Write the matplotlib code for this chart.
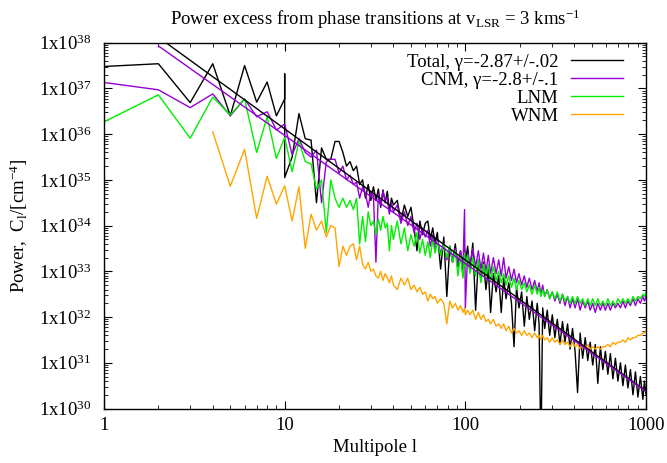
import matplotlib
matplotlib.use('Agg')
import matplotlib.pyplot as plt
import numpy as np
from matplotlib.ticker import FuncFormatter, FixedLocator, NullFormatter

# Значения по оси y хранятся как log10(C_l)

# Общая сетка мультиполей для l > 30
L_HI = [31, 32, 33, 34, 35, 36, 37, 38, 39, 40,
        42, 44, 46, 48, 50, 52, 54, 56, 58, 60,
        62, 64, 66, 68, 70, 73, 76, 79, 82, 85,
        88, 91, 94, 97, 99, 100, 103, 106, 110, 114,
        118, 122, 126, 130, 134, 138, 143, 148, 153, 158,
        163, 168, 174, 180, 186, 192, 198, 205, 212, 219,
        226, 234, 242, 250, 256, 262, 268, 275, 284, 293,
        303, 313, 323, 334, 345, 356, 368, 380, 392, 405,
        418, 432, 446, 461, 476, 491, 507, 524, 541, 559,
        577, 596, 615, 635, 656, 677, 699, 722, 745, 769,
        794, 820, 847, 874, 902, 931, 961, 980, 1000]

# Total
TOTAL_L_LOW = [1, 2, 3, 4, 5, 6, 7, 8, 9, 10, 10, 10,
               11, 12, 13, 14, 15, 16, 17, 18, 19, 20,
               21, 22, 23, 24, 25, 26, 27, 28, 29, 30]
TOTAL_LOW = [37.48, 37.54, 36.69, 37.54, 36.40, 37.50, 36.70, 37.14, 36.40, 36.77, 37.32, 35.05,
             35.50, 36.45, 35.90, 35.87, 34.50, 35.70, 35.45, 35.45, 35.84, 35.84,
             35.60, 35.30, 35.40, 35.20, 35.30, 34.90, 35.00, 34.60, 34.90, 34.55]
TOTAL_HI = [34.85, 34.55, 34.80, 34.40, 34.78, 34.50, 34.75, 34.30, 34.60, 34.45,
            34.55, 34.10, 34.45, 34.20, 34.40, 33.95, 33.45, 34.10, 33.80, 34.05,
            34.10, 33.70, 33.95, 33.60, 33.85, 33.05, 33.75, 32.45, 33.55, 33.20,
            33.60, 33.10, 33.45, 32.90, 33.50, 33.20, 33.55, 33.00, 33.62, 32.15,
            33.25, 32.80, 33.20, 32.60, 33.05, 32.10, 32.95, 32.55, 32.90, 32.10,
            32.85, 32.40, 32.75, 32.30, 31.35, 32.65, 32.20, 32.55, 31.80, 32.45,
            31.95, 32.35, 31.70, 32.30, 31.85, 29.00, 32.20, 31.75, 32.15, 31.60,
            32.05, 31.55, 31.95, 31.40, 31.90, 31.45, 31.85, 31.30, 31.75, 31.25,
            30.35, 31.65, 31.10, 31.55, 31.05, 31.45, 30.95, 31.40, 30.55, 31.35,
            30.85, 31.25, 30.75, 31.20, 30.65, 31.10, 30.60, 31.00, 30.50, 30.95,
            30.45, 30.85, 30.30, 30.80, 30.25, 30.70, 30.20, 30.60, 30.30]

# CNM
CNM_L_LOW = list(range(1, 31))
CNM_LOW = [37.13, 36.97, 36.58, 36.88, 36.40, 36.77, 36.38, 36.49, 36.09, 36.22,
           35.55, 35.90, 35.60, 35.50, 35.65, 34.50, 35.40, 35.45, 35.45, 35.15,
           35.30, 35.00, 35.10, 34.90, 34.95, 34.60, 34.85, 34.70, 34.40, 34.75]
CNM_HI = [34.65, 33.20, 34.70, 34.45, 34.75, 34.55, 34.60, 34.25, 34.50, 34.30,
          34.45, 34.05, 34.30, 34.00, 34.20, 33.85, 34.05, 33.70, 33.95, 33.75,
          33.90, 33.55, 33.80, 33.45, 33.70, 33.40, 33.60, 33.25, 33.55, 33.20,
          33.50, 33.15, 33.45, 33.10, 34.35, 32.20, 33.40, 33.15, 33.50, 33.10,
          33.45, 33.05, 33.40, 33.00, 33.35, 32.95, 33.30, 32.95, 33.25, 32.90,
          33.30, 32.85, 33.10, 32.80, 33.05, 32.75, 32.95, 32.70, 32.90, 32.65,
          32.85, 32.60, 32.80, 32.55, 32.75, 32.50, 32.70, 32.45, 32.60, 32.40,
          32.55, 32.35, 32.50, 32.30, 32.50, 32.25, 32.45, 32.20, 32.40, 32.20,
          32.40, 32.15, 32.35, 32.20, 32.35, 32.15, 32.30, 32.10, 32.30, 32.15,
          32.30, 32.15, 32.30, 32.15, 32.30, 32.20, 32.30, 32.20, 32.35, 32.20,
          32.35, 32.25, 32.40, 32.25, 32.40, 32.30, 32.45, 32.35, 32.45]

# LNM
LNM_L_LOW = list(range(1, 31))
LNM_LOW = [36.27, 36.86, 35.91, 36.81, 36.42, 36.77, 35.60, 36.38, 35.47, 35.93,
           35.18, 35.84, 35.40, 35.35, 34.80, 35.00, 33.85, 35.00, 34.60, 34.40,
           34.60, 34.40, 34.55, 34.35, 34.60, 33.60, 34.20, 33.65, 34.30, 34.00]
LNM_HI = [34.10, 33.80, 34.15, 33.90, 34.20, 33.95, 34.05, 33.45, 34.00, 33.70,
          34.10, 33.60, 33.95, 33.45, 33.80, 33.55, 33.85, 33.40, 33.70, 33.35,
          33.65, 33.30, 33.70, 33.40, 33.65, 33.35, 33.60, 33.30, 33.55, 33.20,
          33.45, 32.90, 33.35, 32.85, 33.40, 33.10, 33.35, 32.95, 33.30, 32.90,
          33.25, 32.75, 33.15, 32.90, 33.15, 32.80, 33.10, 32.80, 33.00, 32.75,
          32.95, 32.70, 32.90, 32.65, 32.85, 32.60, 32.80, 32.60, 32.75, 32.55,
          32.70, 32.50, 32.70, 32.50, 32.65, 32.45, 32.60, 32.45, 32.60, 32.40,
          32.55, 32.40, 32.55, 32.35, 32.50, 32.35, 32.45, 32.30, 32.45, 32.30,
          32.45, 32.30, 32.40, 32.25, 32.40, 32.25, 32.40, 32.25, 32.40, 32.25,
          32.35, 32.25, 32.40, 32.25, 32.35, 32.25, 32.40, 32.30, 32.40, 32.30,
          32.40, 32.30, 32.45, 32.35, 32.45, 32.40, 32.50, 32.45, 32.55]

# WNM
WNM_L_LOW = list(range(4, 31))
WNM_LOW = [36.05, 34.86, 35.67, 34.16, 35.08, 34.47, 34.87,
           34.10, 34.85, 33.50, 34.25, 33.90, 34.10, 33.75, 34.00, 33.95, 33.10,
           33.55, 33.35, 33.55, 33.60, 33.25, 33.55, 33.15, 33.05, 33.20, 33.00]
WNM_HI = [33.05, 32.90, 32.85, 33.00, 32.80, 32.95, 32.85, 32.75, 32.90, 32.70,
          32.60, 32.85, 32.70, 32.85, 32.60, 32.70, 32.55, 32.65, 32.50, 32.55,
          32.35, 32.50, 32.40, 32.45, 32.30, 32.40, 32.30, 31.85, 32.35, 32.20,
          32.30, 32.15, 32.25, 32.10, 32.20, 32.05, 32.15, 32.05, 32.15, 31.95,
          32.10, 31.95, 32.05, 31.90, 31.95, 31.85, 31.95, 31.80, 31.85, 31.75,
          31.85, 31.70, 31.80, 31.65, 31.75, 31.65, 31.70, 31.60, 31.70, 31.60,
          31.65, 31.55, 31.65, 31.55, 31.60, 31.50, 31.60, 31.50, 31.55, 31.45,
          31.55, 31.45, 31.50, 31.40, 31.50, 31.40, 31.45, 31.35, 31.45, 31.35,
          31.40, 31.30, 31.40, 31.30, 31.40, 31.30, 31.35, 31.30, 31.35, 31.30,
          31.35, 31.35, 31.40, 31.35, 31.45, 31.40, 31.45, 31.45, 31.50, 31.45,
          31.55, 31.50, 31.55, 31.55, 31.60, 31.60, 31.65, 31.65, 31.70]

# Степенные аппроксимации (концы прямых)
FIT_L = [2, 1000]
TOTAL_FIT = [38.12, 30.38]
CNM_FIT = [37.93, 30.37]

LABELS = ['Total, γ=-2.87+/-.02', 'CNM, γ=-2.8+/-.1', 'LNM', 'WNM']
COLORS = ['black', '#9400d3', '#00ee00', '#ffa500']

X_TICKS = [1, 10, 100, 1000]
Y_DECADES = [30, 31, 32, 33, 34, 35, 36, 37, 38]


def power_label(y, pos):
    return r'1x10$^{%d}$' % int(round(np.log10(y)))


def main():
    plt.rcParams['font.family'] = ['Liberation Serif', 'DejaVu Serif']
    plt.rcParams['mathtext.fontset'] = 'custom'
    plt.rcParams['mathtext.rm'] = 'Liberation Serif'
    plt.rcParams['mathtext.it'] = 'Liberation Serif:italic'
    plt.rcParams['mathtext.default'] = 'rm'

    fig = plt.figure(figsize=(6.67, 4.63), dpi=100)
    ax = fig.add_axes([104 / 667, 1 - 408.5 / 463, 542 / 667, 365.8 / 463])

    series = [
        (TOTAL_L_LOW + L_HI, TOTAL_LOW + TOTAL_HI),
        (CNM_L_LOW + L_HI, CNM_LOW + CNM_HI),
        (LNM_L_LOW + L_HI, LNM_LOW + LNM_HI),
        (WNM_L_LOW + L_HI, WNM_LOW + WNM_HI),
    ]
    for (l, v), label, color in zip(series, LABELS, COLORS):
        ax.plot(l, 10.0 ** np.array(v), color=color, linewidth=1.0, label=label)

    ax.plot(FIT_L, 10.0 ** np.array(TOTAL_FIT), color=COLORS[0], linewidth=1.0)
    ax.plot(FIT_L, 10.0 ** np.array(CNM_FIT), color=COLORS[1], linewidth=1.0)

    ax.set_xscale('log')
    ax.set_yscale('log')
    ax.set_xlim(1, 1000)
    ax.set_ylim(1e30, 1e38)

    # Деления как в gnuplot: внутрь, на всех сторонах
    ax.xaxis.set_major_locator(FixedLocator(X_TICKS))
    ax.xaxis.set_minor_locator(FixedLocator(
        [m * d for d in X_TICKS[:-1] for m in range(2, 10)]))
    ax.xaxis.set_major_formatter(FuncFormatter(lambda x, p: '%d' % round(x)))
    ax.xaxis.set_minor_formatter(NullFormatter())
    ax.yaxis.set_major_locator(FixedLocator([10.0 ** d for d in Y_DECADES]))
    ax.yaxis.set_minor_locator(FixedLocator(
        [m * 10.0 ** d for d in Y_DECADES[:-1] for m in range(2, 10)]))
    ax.yaxis.set_major_formatter(FuncFormatter(power_label))
    ax.yaxis.set_minor_formatter(NullFormatter())

    ax.tick_params(which='both', direction='in', top=True, right=True, labelsize=13.5)
    ax.tick_params(which='major', length=6, width=0.8)
    ax.tick_params(which='minor', length=3, width=0.6)
    ax.tick_params(axis='x', pad=6)
    ax.tick_params(axis='y', pad=9)
    for spine in ax.spines.values():
        spine.set_linewidth(1.0)

    ax.set_title(r'Power excess from phase transitions at v$_{\mathrm{LSR}}$ = 3 kms$^{-1}$',
                 fontsize=13.5, pad=13)
    ax.set_xlabel('Multipole l', fontsize=13.5, labelpad=4)
    ax.set_ylabel(r'Power,  C$_{\mathrm{l}}$/[cm$^{-4}$]', fontsize=13.5, labelpad=6)

    ax.legend(loc='upper right', bbox_to_anchor=(0.965, 0.981), frameon=False,
              markerfirst=False, fontsize=13.5, handlelength=2.8, handletextpad=0.65,
              labelspacing=0.05, borderaxespad=0.0, borderpad=0.2)

    fig.savefig('out.png', dpi=100)
    plt.close(fig)


if __name__ == '__main__':
    main()
